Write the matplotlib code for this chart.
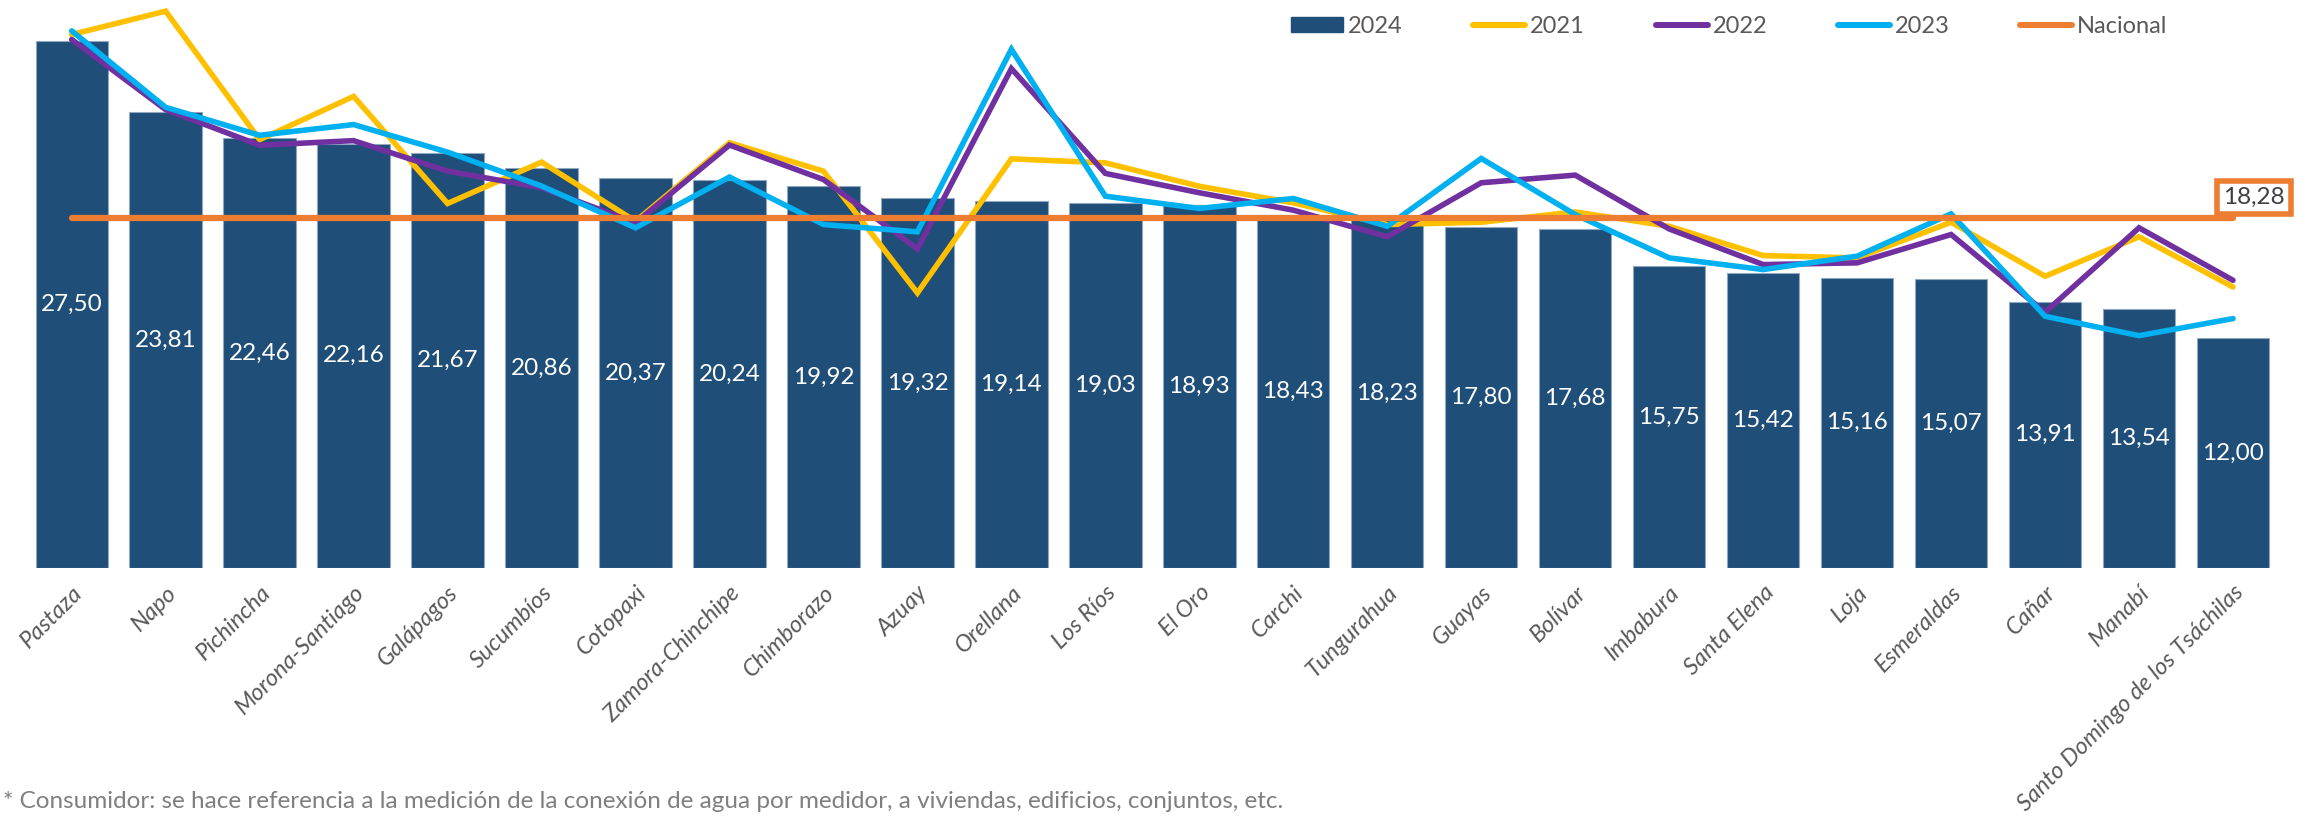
import matplotlib
matplotlib.use("Agg")
import matplotlib.pyplot as plt
from matplotlib.patches import Patch
from matplotlib.lines import Line2D
import numpy as np

categories = ["Pastaza", "Napo", "Pichincha", "Morona-Santiago", "Galápagos", "Sucumbíos",
              "Cotopaxi", "Zamora-Chinchipe", "Chimborazo", "Azuay", "Orellana", "Los Ríos",
              "El Oro", "Carchi", "Tungurahua", "Guayas", "Bolívar", "Imbabura", "Santa Elena",
              "Loja", "Esmeraldas", "Cañar", "Manabí", "Santo Domingo de los Tsáchilas"]
v2024 = [27.50, 23.81, 22.46, 22.16, 21.67, 20.86, 20.37, 20.24, 19.92, 19.32, 19.14, 19.03,
         18.93, 18.43, 18.23, 17.80, 17.68, 15.75, 15.42, 15.16, 15.07, 13.91, 13.54, 12.00]
v2021 = [27.85, 29.07, 22.36, 24.62, 19.03, 21.19, 18.10, 22.20, 20.72, 14.36, 21.36, 21.15,
         19.93, 19.06, 17.93, 18.05, 18.59, 17.84, 16.31, 16.19, 18.05, 15.23, 17.29, 14.67]
v2022 = [27.59, 23.93, 22.07, 22.31, 20.72, 19.85, 18.02, 22.08, 20.28, 16.66, 26.07, 20.60,
         19.59, 18.68, 17.29, 20.11, 20.51, 17.70, 15.84, 15.93, 17.41, 13.35, 17.76, 15.02]
v2023 = [28.04, 24.05, 22.59, 23.15, 21.71, 19.94, 17.76, 20.41, 17.93, 17.55, 27.08, 19.41,
         18.77, 19.29, 17.84, 21.38, 18.45, 16.19, 15.58, 16.28, 18.49, 13.14, 12.13, 13.02]
nacional = 18.28
footnote = "* Consumidor: se hace referencia a la medición de la conexión de agua por medidor, a viviendas, edificios, conjuntos, etc."

def fmt(v):
    return f"{v:.2f}".replace(".", ",")

plt.rcParams['font.family'] = ['Lato', 'DejaVu Sans']

C_BAR = "#1F4E79"
C21 = "#FFC000"
C22 = "#7030A0"
C23 = "#00B0F0"
CNAT = "#ED7D31"
GREY = "#595959"

W, H = 2310, 823
fig = plt.figure(figsize=(W / 100, H / 100), dpi=100)
left = 24.7 / W
right = 2280 / W
bottom = 1 - 568 / H
top = 1 - 1 / H
ax = fig.add_axes([left, bottom, right - left, top - bottom])

x = np.arange(len(categories))
ax.bar(x, v2024, width=0.77, color=C_BAR, edgecolor="#8FA8C0", linewidth=0.8, zorder=2)
for xi, v in zip(x, v2024):
    ax.text(xi, v / 2, fmt(v), ha="center", va="center", color="white", fontsize=17.5, zorder=3)

lw = 4.0
ax.plot(x, v2021, color=C21, lw=lw, zorder=4, solid_capstyle="round", solid_joinstyle="miter")
ax.plot(x, v2022, color=C22, lw=lw, zorder=5, solid_capstyle="round", solid_joinstyle="miter")
ax.plot(x, v2023, color=C23, lw=lw, zorder=6, solid_capstyle="round", solid_joinstyle="miter")
ax.plot([x[0], x[-1]], [nacional, nacional], color=CNAT, lw=4.5, zorder=7, solid_capstyle="round")

ax.annotate(fmt(nacional), xy=(x[-1], nacional), xytext=(21, 20), textcoords="offset pixels",
            ha="center", va="center", fontsize=17.5, color="#404040", zorder=8,
            bbox=dict(boxstyle="square,pad=0.25", fc="white", ec=CNAT, lw=4))

ax.set_xlim(-0.5, len(categories) - 0.5)
ax.set_ylim(0, 29.6)
ax.set_yticks([])
ax.set_xticks(x)
ax.set_xticklabels(categories, rotation=45, ha="right", rotation_mode="anchor",
                   fontsize=17, color=GREY, style="italic")
ax.tick_params(axis="x", length=0, pad=10)
for s in ax.spines.values():
    s.set_visible(False)

handles = [Patch(facecolor=C_BAR, edgecolor=C_BAR),
           Line2D([0], [0], color=C21, lw=4.3, solid_capstyle="round"),
           Line2D([0], [0], color=C22, lw=4.3, solid_capstyle="round"),
           Line2D([0], [0], color=C23, lw=4.3, solid_capstyle="round"),
           Line2D([0], [0], color=CNAT, lw=4.3, solid_capstyle="round")]
labels = ["2024", "2021", "2022", "2023", "Nacional"]
leg = fig.legend(handles, labels, ncol=5, loc="upper right",
                 bbox_to_anchor=(2172 / W, 1 - 11 / H), frameon=False,
                 fontsize=17, handlelength=2.2, handleheight=0.6, handletextpad=0.2,
                 columnspacing=3.0, borderpad=0.2, borderaxespad=0)
for t in leg.get_texts():
    t.set_color(GREY)

fig.text(3 / W, 1 - 801 / H, footnote, ha="left", va="center", fontsize=17.5, color="#7F7F7F")

fig.savefig("out.png", dpi=100)
